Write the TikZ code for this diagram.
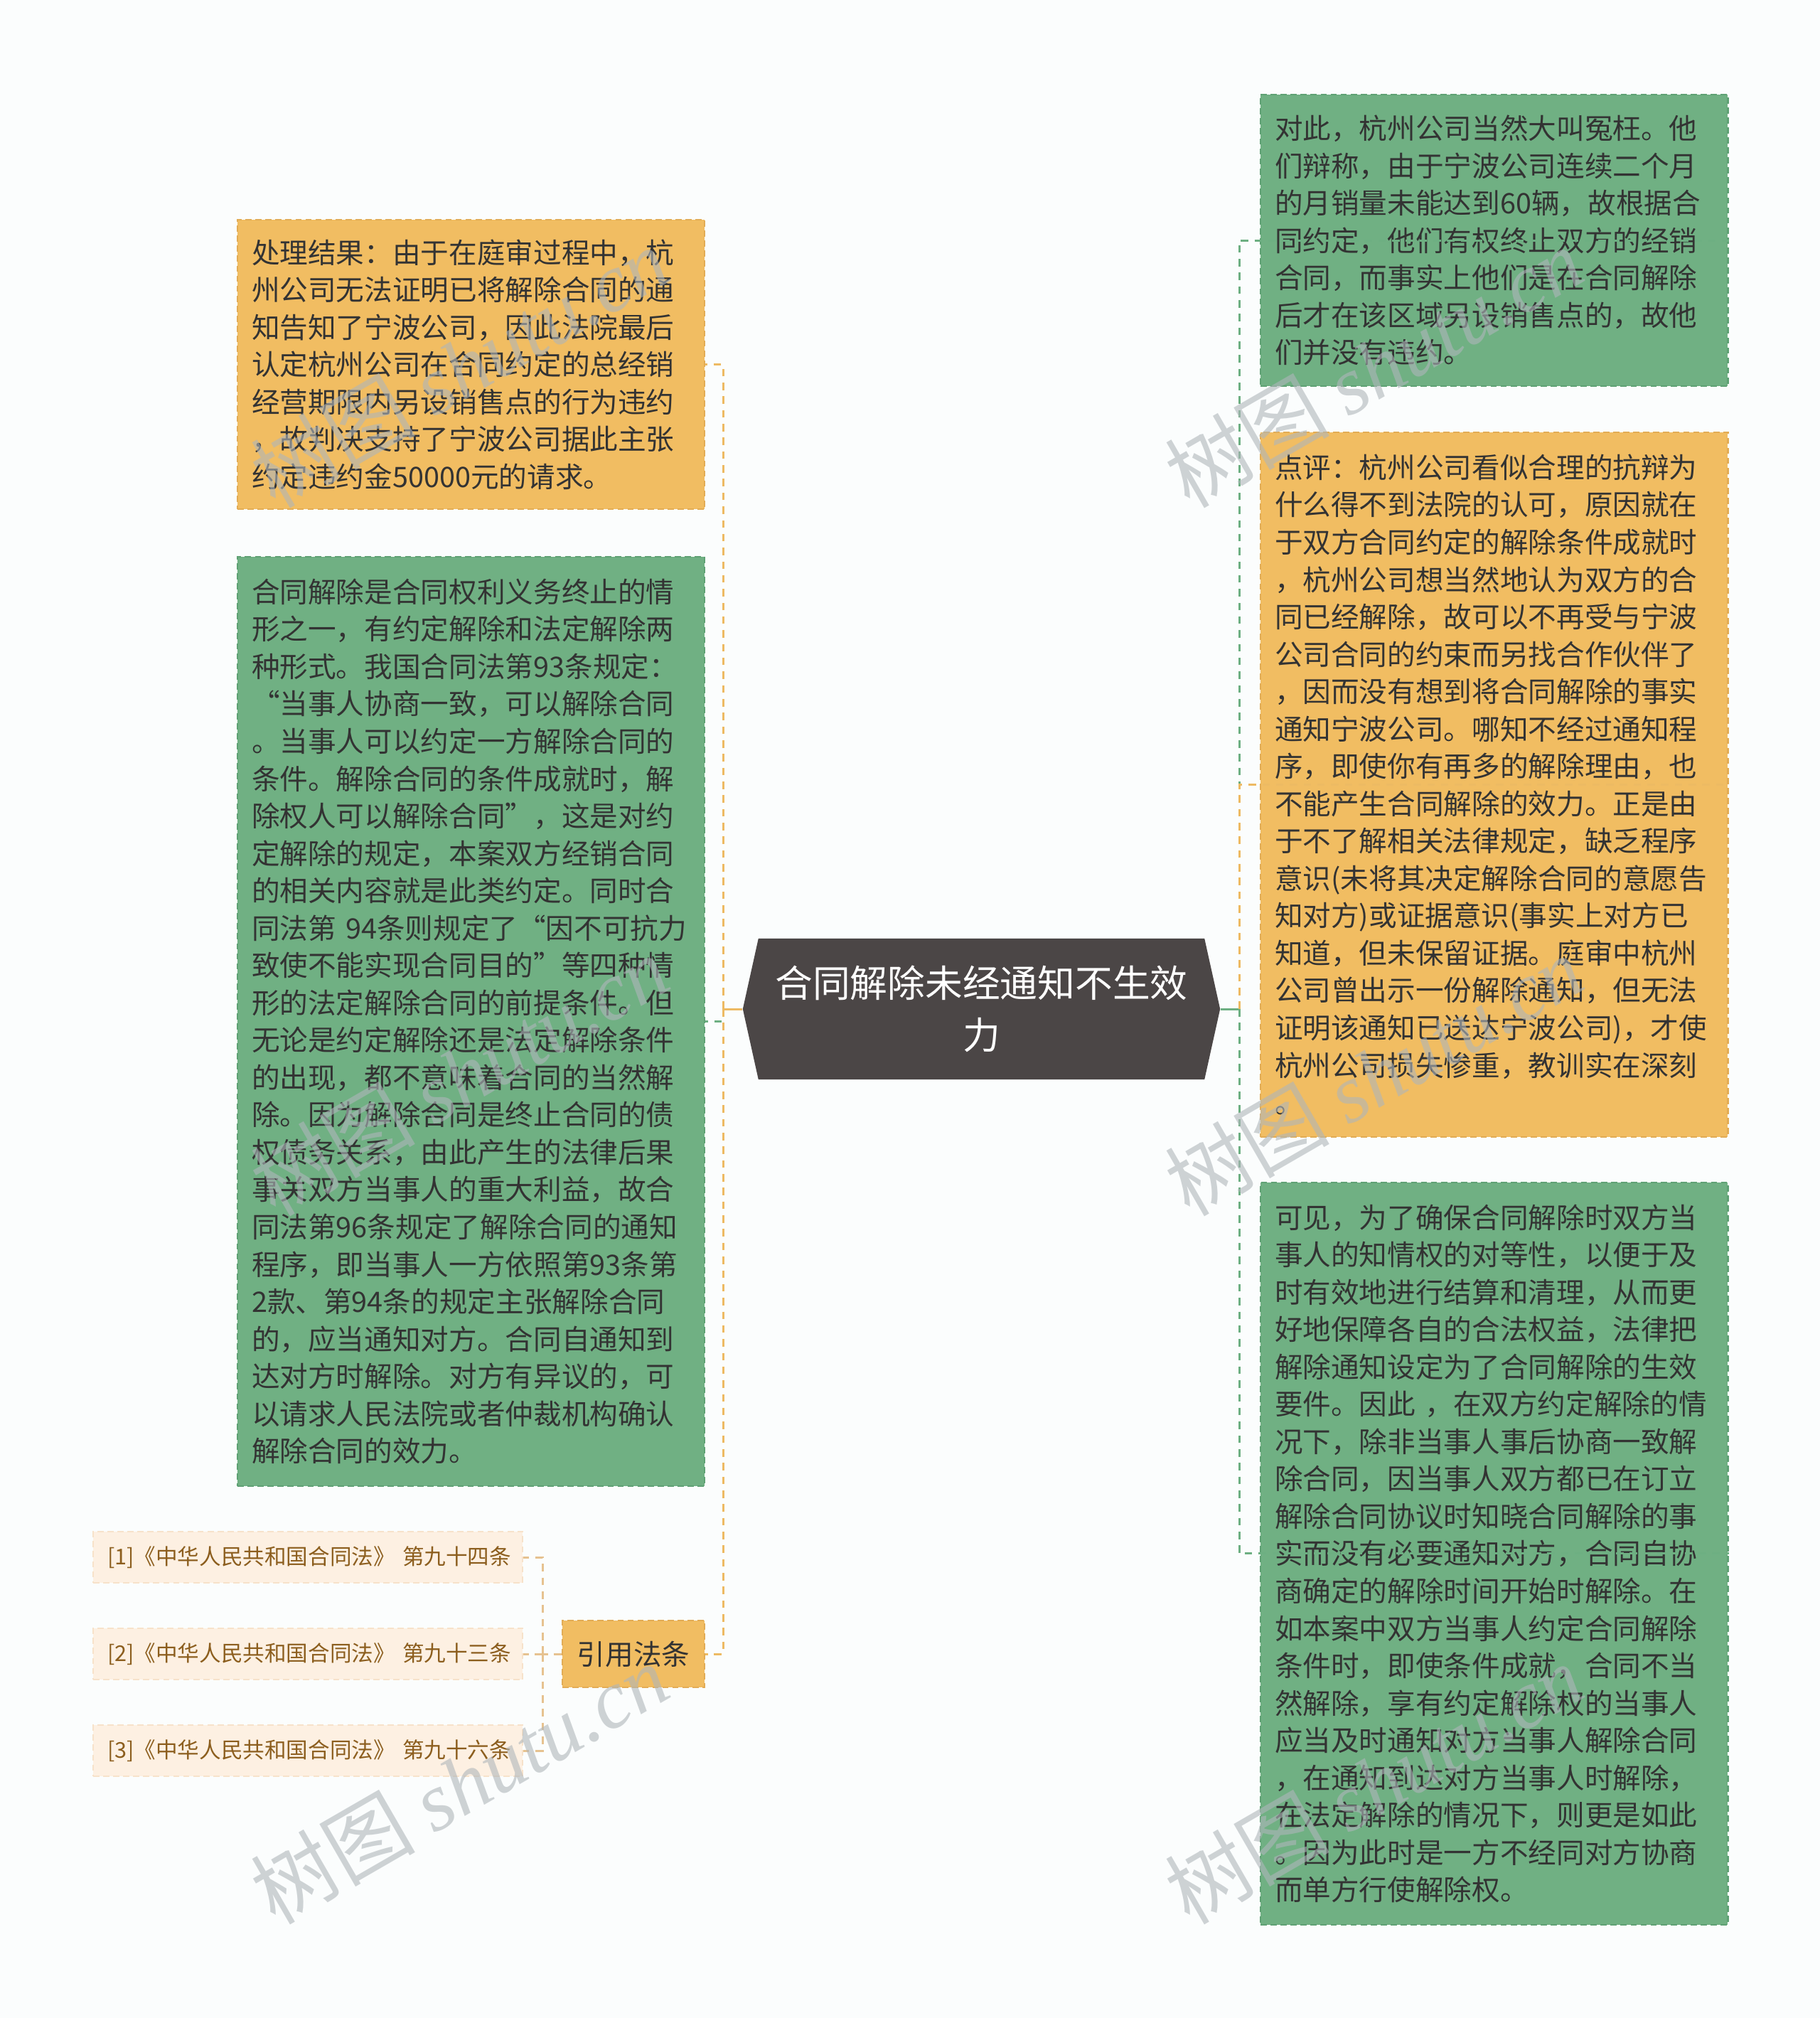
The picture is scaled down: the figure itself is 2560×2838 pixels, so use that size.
\documentclass[tikz,border=0pt]{standalone}
\usepackage{fontspec}
\newfontfamily\cjk{Noto Sans CJK SC}
\newfontfamily\wmfont{Liberation Serif}
\usetikzlibrary{shapes.symbols}

\definecolor{bgcol}{HTML}{FBFDFD}
\definecolor{ofill}{HTML}{F1BD62}
\definecolor{oline}{HTML}{E2AC55}
\definecolor{gfill}{HTML}{70B083}
\definecolor{gline}{HTML}{5FA174}
\definecolor{rootcol}{HTML}{4B4646}
\definecolor{txtcol}{HTML}{333333}
\definecolor{reffill}{HTML}{FDF0E2}
\definecolor{refdraw}{HTML}{F7E2CA}
\definecolor{reftxt}{HTML}{8C5E1E}
\definecolor{oedgecol}{HTML}{EDBA63}
\definecolor{gedgecol}{HTML}{6DAF82}
\definecolor{refedgecol}{HTML}{E6C290}
\definecolor{wmcol}{HTML}{AFB6BA}

\begin{document}
\begin{tikzpicture}[x=0.01cm, y=-0.01cm, font=\cjk,
  box/.style={draw, dash pattern=on 2.5pt off 1.5pt, line width=0.6pt, anchor=north west,
    text width=6.17cm, inner xsep=0.2cm, inner ysep=0cm, align=left, text=txtcol,
    font=\cjk\fontsize{11.27}{14.94}\selectfont},
  obox/.style={box, fill=ofill, draw=oline},
  gbox/.style={box, fill=gfill, draw=gline},
  root/.style={shape=signal, signal to=west and east, signal pointer angle=155,
    fill=rootcol, text=white, minimum width=6.71cm, minimum height=1.98cm, inner sep=0pt,
    align=center, font=\cjk\fontsize{15}{20.7}\selectfont},
  citebox/.style={draw=oline, fill=ofill, dash pattern=on 2.5pt off 1.5pt, line width=0.6pt,
    minimum width=2cm, minimum height=0.94cm, text=txtcol, font=\cjk\fontsize{11.27}{14}\selectfont},
  refbox/.style={draw=refdraw, fill=reffill, dash pattern=on 2.5pt off 1.5pt, line width=0.6pt,
    anchor=west, text width=5.64cm, inner xsep=0.2cm, minimum height=0.72cm, align=left,
    text=reftxt, font=\cjk\fontsize{8.7}{10}\selectfont},
  ostub/.style={oedgecol, line width=0.85pt},
  gstub/.style={gedgecol, line width=0.85pt},
  oedge/.style={oedgecol, line width=0.85pt, dash pattern=on 3pt off 2.5pt},
  gedge/.style={gedgecol, line width=0.85pt, dash pattern=on 3pt off 2.5pt},
  refedge/.style={refedgecol, line width=0.85pt, dash pattern=on 3pt off 2.5pt},
  wmark/.style={rotate=30, text=wmcol, text opacity=0.6, font=\cjk\fontsize{33}{33}\selectfont}]

%\draw[step=100, gray!30] (0,0) grid (2560,2838);
\fill[bgcol] (0,0) rectangle (2560,2838);
\useasboundingbox (0,0) rectangle (2560,2838);

\node[root] (root) at (1380.5,1419) {合同解除未经通知不生效\\力};

% left side
\node[obox, minimum height=4.07cm] (o1) at (333,308) {处理结果：由于在庭审过程中，杭\\州公司无法证明已将解除合同的通\\知告知了宁波公司，因此法院最后\\认定杭州公司在合同约定的总经销\\经营期限内另设销售点的行为违约\\，故判决支持了宁波公司据此主张\\约定违约金50000元的请求。};

\node[gbox, minimum height=13.06cm] (gl) at (333,782) {合同解除是合同权利义务终止的情\\形之一，有约定解除和法定解除两\\种形式。我国合同法第93条规定：\\“当事人协商一致，可以解除合同\\。当事人可以约定一方解除合同的\\条件。解除合同的条件成就时，解\\除权人可以解除合同”，这是对约\\定解除的规定，本案双方经销合同\\的相关内容就是此类约定。同时合\\同法第~94条则规定了“因不可抗力\\致使不能实现合同目的”等四种情\\形的法定解除合同的前提条件。但\\无论是约定解除还是法定解除条件\\的出现，都不意味着合同的当然解\\除。因为解除合同是终止合同的债\\权债务关系，由此产生的法律后果\\事关双方当事人的重大利益，故合\\同法第96条规定了解除合同的通知\\程序，即当事人一方依照第93条第\\2款、第94条的规定主张解除合同\\的，应当通知对方。合同自通知到\\达对方时解除。对方有异议的，可\\以请求人民法院或者仲裁机构确认\\解除合同的效力。};

\node[citebox] (cite) at (891,2326) {引用法条};

\foreach \n/\y/\t in {1/2190/第九十四条, 2/2326/第九十三条, 3/2462/第九十六条}
  \node[refbox] (ref\n) at (130,\y) {[\n]《中华人民共和国合同法》~\t};

% right side
\node[gbox, minimum height=4.1cm] (g1) at (1772,132) {对此，杭州公司当然大叫冤枉。他\\们辩称，由于宁波公司连续二个月\\的月销量未能达到60辆，故根据合\\同约定，他们有权终止双方的经销\\合同，而事实上他们是在合同解除\\后才在该区域另设销售点的，故他\\们并没有违约。};

\node[obox, minimum height=9.9cm] (o2) at (1772,607) {点评：杭州公司看似合理的抗辩为\\什么得不到法院的认可，原因就在\\于双方合同约定的解除条件成就时\\，杭州公司想当然地认为双方的合\\同已经解除，故可以不再受与宁波\\公司合同的约束而另找合作伙伴了\\，因而没有想到将合同解除的事实\\通知宁波公司。哪知不经过通知程\\序，即使你有再多的解除理由，也\\不能产生合同解除的效力。正是由\\于不了解相关法律规定，缺乏程序\\意识(未将其决定解除合同的意愿告\\知对方)或证据意识(事实上对方已\\知道，但未保留证据。庭审中杭州\\公司曾出示一份解除通知，但无法\\证明该通知已送达宁波公司)，才使\\杭州公司损失惨重，教训实在深刻\\。};

\node[gbox, minimum height=10.43cm] (g2) at (1772,1662) {可见，为了确保合同解除时双方当\\事人的知情权的对等性，以便于及\\时有效地进行结算和清理，从而更\\好地保障各自的合法权益，法律把\\解除通知设定为了合同解除的生效\\要件。因此~，在双方约定解除的情\\况下，除非当事人事后协商一致解\\除合同，因当事人双方都已在订立\\解除合同协议时知晓合同解除的事\\实而没有必要通知对方，合同自协\\商确定的解除时间开始时解除。在\\如本案中双方当事人约定合同解除\\条件时，即使条件成就，合同不当\\然解除，享有约定解除权的当事人\\应当及时通知对方当事人解除合同\\，在通知到达对方当事人时解除，\\在法定解除的情况下，则更是如此\\。因为此时是一方不经同对方协商\\而单方行使解除权。};

% connectors
\coordinate (lj) at (1017,1419);
\coordinate (rj) at (1743,1419);
\coordinate (cj) at (763,2326);

\draw[ostub] (root.west) -- (lj);
\draw[gedge] (lj) |- (gl.east);
\draw[oedge] (lj) |- (o1.east);
\draw[oedge] (lj) |- (cite.east);

\draw[gstub] (root.east) -- (rj);
\draw[gedge] (rj) |- (g1.east);
\draw[gedge] (rj) |- (g2.east);
\draw[oedge] (rj) |- (o2.east);

\draw[refedge] (cite.west) -- (cj);
\foreach \n in {1,2,3}
  \draw[refedge] (cj) |- (ref\n.east);

% watermarks
\foreach \wx in {646,1932}
  \foreach \wy in {516,1512,2508}
    \node[wmark] (wm-\wx-\wy) at (\wx,\wy) {树图 {\wmfont\itshape shutu.cn}};

\end{tikzpicture}
\end{document}
